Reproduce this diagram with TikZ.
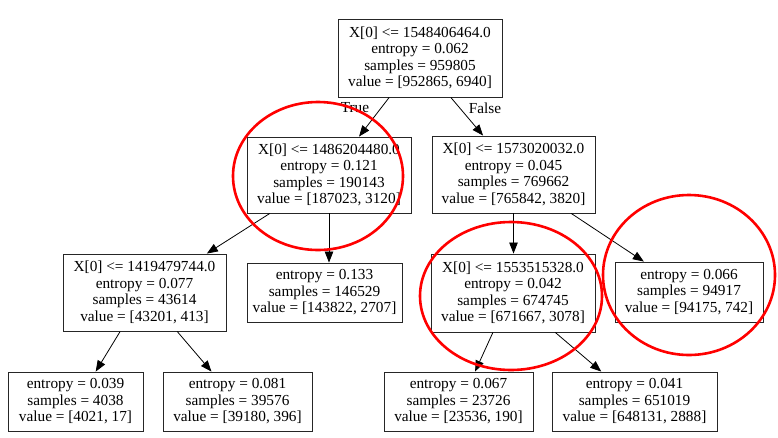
\documentclass[tikz,border=0pt]{standalone}
\usepackage{fontspec}
\setmainfont{Liberation Serif}
\usetikzlibrary{arrows.meta}

\begin{document}
\begin{tikzpicture}[
            x=1pt,y=-1pt,
            split/.style={
              draw=black!85,
              line width=0.9pt,
              align=center,
              inner sep=1pt,
              font=\fontsize{15.3}{16.5}\selectfont
            },
            lbl/.style={
              inner sep=0pt,
              font=\fontsize{15.3}{16.5}\selectfont
            },
            edge/.style={
              draw,
              line width=0.8pt,
              -{Triangle[length=11pt,width=8.5pt]}
            },
            ring/.style={
              draw=red,
              line width=2.6pt
            }
            ]
            \fill[white] (0,0) rectangle (778,437);
            \useasboundingbox (0,0) rectangle (778,437);
            % root and first split
            \node[split,minimum width=164pt,minimum height=78pt] at (420,58)
              (root) {X[0] <= 1548406464.0\\entropy = 0.062\\samples = 959805\\value = [952865, 6940]};
            \node[split,minimum width=164pt,minimum height=76pt] at (329,175)
              (left) {X[0] <= 1486204480.0\\entropy = 0.121\\samples = 190143\\value = [187023, 3120]};
            \node[split,minimum width=163pt,minimum height=77pt] at (513.5,174.5)
              (right) {X[0] <= 1573020032.0\\entropy = 0.045\\samples = 769662\\value = [765842, 3820]};
            % second level
            \node[split,minimum width=163pt,minimum height=77pt] at (144.5,292.5)
              (ll) {X[0] <= 1419479744.0\\entropy = 0.077\\samples = 43614\\value = [43201, 413]};
            \node[split,minimum width=155pt,minimum height=59pt] at (324.5,292.5)
              (lr) {entropy = 0.133\\samples = 146529\\value = [143822, 2707]};
            \node[split,minimum width=164pt,minimum height=78pt] at (513,293)
              (rl) {X[0] <= 1553515328.0\\entropy = 0.042\\samples = 674745\\value = [671667, 3078]};
            \node[split,minimum width=148pt,minimum height=60pt] at (689,292)
              (rr) {entropy = 0.066\\samples = 94917\\value = [94175, 742]};
            % leaves
            \node[split,minimum width=135pt,minimum height=59pt] at (75.5,401.5)
              (lll) {entropy = 0.039\\samples = 4038\\value = [4021, 17]};
            \node[split,minimum width=149pt,minimum height=59pt] at (237.5,401.5)
              (llr) {entropy = 0.081\\samples = 39576\\value = [39180, 396]};
            \node[split,minimum width=149pt,minimum height=59pt] at (458.5,401.5)
              (rll) {entropy = 0.067\\samples = 23726\\value = [23536, 190]};
            \node[split,minimum width=165pt,minimum height=59pt] at (634.5,401.5)
              (rlr) {entropy = 0.041\\samples = 651019\\value = [648131, 2888]};

            \node[lbl] at (355,108) (true) {True};
            \node[lbl] at (485,108) (false) {False};

            \draw[edge] (root.232) -- (left.52);
            \draw[edge] (root.308) -- (right.128);
            \draw[edge] (left.213) -- (ll.32);
            \draw[edge] (left.south) -- (left.south |- lr.north);
            \draw[edge] (right.south) -- (right.south |- rl.north);
            \draw[edge] (right.326) -- (rr.146);
            \draw[edge] (ll.238) -- (lll.56);
            \draw[edge] (ll.310) -- (llr.131);
            \draw[edge] (rl.243) -- (rll.61);
            \draw[edge] (rl.317) -- (rlr.138);

            % red marks
            \draw[ring] (318,176) ellipse [x radius=85pt,y radius=74pt];
            \draw[ring] (511,296) ellipse [x radius=91pt,y radius=74pt];
            \draw[ring] (689,275) ellipse [x radius=86pt,y radius=80pt];
        \end{tikzpicture}
\end{document}
